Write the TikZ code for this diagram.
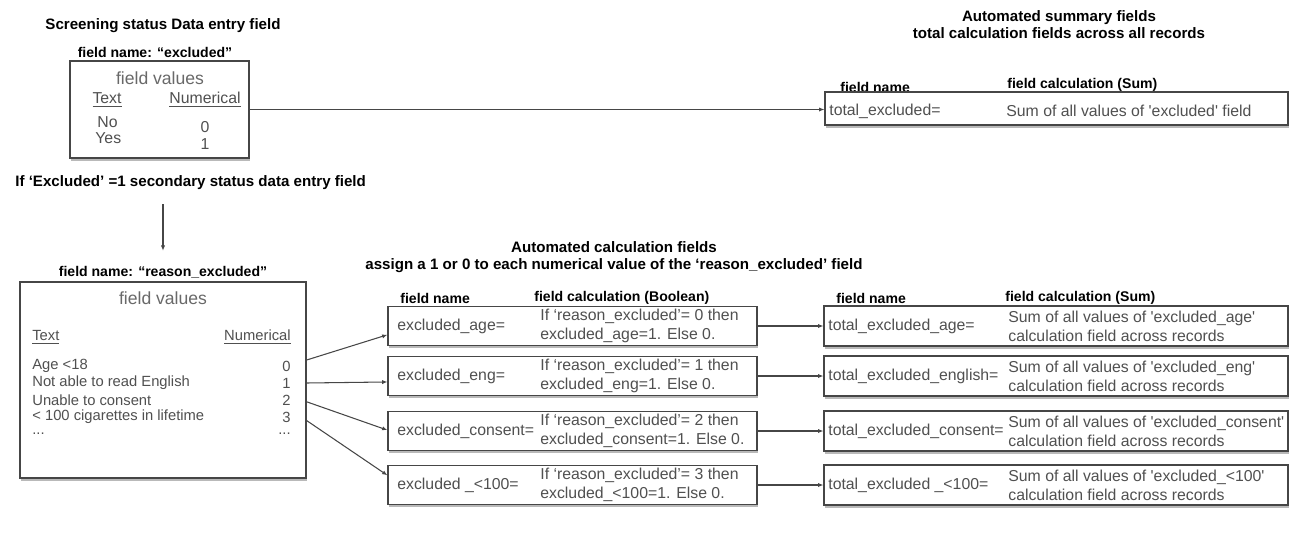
\documentclass[tikz,border=0pt]{standalone}
\usepackage{fontspec}
\setmainfont{Liberation Sans}
\definecolor{boxline}{RGB}{70,70,70}
\definecolor{valgray}{RGB}{80,80,80}
\definecolor{lightgray}{RGB}{105,105,105}
\usetikzlibrary{arrows.meta, positioning, shadows}

\begin{document}
\begin{tikzpicture}[x=0.02cm, y=-0.02cm, inner sep=0pt,
  title/.style={font=\fontsize{8.6}{9.6}\selectfont\bfseries, align=center},
  hd/.style={font=\fontsize{8}{9}\selectfont\bfseries},
  txt/.style={font=\fontsize{9}{10.8}\selectfont, text=valgray, align=left},
  lst/.style={font=\fontsize{8.4}{10}\selectfont, text=valgray},
  fvals/.style={font=\fontsize{10}{12}\selectfont, text=lightgray},
  fbox/.style={draw=boxline, line width=0.7pt, fill=white,
    drop shadow={shadow xshift=0.5pt, shadow yshift=-1.8pt, opacity=0.55}},
  arr/.style={draw=boxline, line width=0.6pt, -{Latex[length=3pt, width=2.4pt]}}]
\useasboundingbox (0,0) rectangle (1291,541);

% screening status field
\node[title] (scrtitle) at (163,26) {Screening status Data entry field};
\node[hd] (exname) at (155,52) {field name: ``excluded''};
\node[fbox, minimum width=3.58cm, minimum height=1.94cm] (exbox) at (159.5,109.5) {};
\node[fvals] (exvals) at (160,78) {field values};
\node[txt] (extext) at (107,100) {\underline{Text}};
\node[txt] (exnum) at (205,100) {\underline{Numerical}};
\node[txt, anchor=west] (exno) at (97,122) {No};
\node[txt, anchor=west] (exyes) at (95,138) {Yes};
\node[txt] (ex0) at (205,127) {0};
\node[txt] (ex1) at (205,144) {1};

% summary of excluded
\node[title] (sumtitle) at (1059,25) {Automated summary fields\\total calculation fields across all records};
\node[hd, anchor=west] (tothd1) at (840,87) {field name};
\node[hd, anchor=west] (tothd2) at (1007,85) {field calculation (Sum)};
\node[fbox, minimum width=9.26cm, minimum height=0.66cm] (totbox) at (1056.5,108.5) {};
\node[txt, anchor=west] (totname) at (829,111) {total\_excluded=};
\node[txt, anchor=west] (totsum) at (1006,111) {Sum of all values of \textquotesingle excluded\textquotesingle{} field};
\draw[arr] (exbox.east) -- (exbox.east -| totbox.west);

% secondary status field
\node[title, anchor=west] (iftxt) at (15,183) {If `Excluded' =1 secondary status data entry field};
\node[hd] (rsname) at (163,272) {field name: ``reason\_excluded''};
\draw[arr] ([yshift=-8pt]iftxt.south -| rsname) -- ([yshift=8.5pt]rsname.north);
\node[fbox, minimum width=5.72cm, minimum height=3.92cm] (rsbox) at (163,380) {};
\node[fvals] (rsvals) at (163,298) {field values};
\node[lst, anchor=west] (rstext) at (32,337) {\underline{Text}};
\node[lst, anchor=east] (rsnum) at (291,337) {\underline{Numerical}};
\foreach \n/\lbl/\y in {0/Age <18/366, 1/Not able to read English/383, 2/Unable to consent/400, 3/< 100 cigarettes in lifetime/417} {
  \node[lst, anchor=west] (r\n) at (32,\y) {\lbl};
  \node[lst, anchor=east] (n\n) at (291,\y) {\n};
}
\node[lst, anchor=west] (rdots) at (32,434) {...};
\node[lst, anchor=east] (ndots) at (291,434) {...};

% boolean and sum fields
\node[title] (calctitle) at (614,257.5) {Automated calculation fields\\assign a 1 or 0 to each numerical value of the `reason\_excluded' field};
\node[hd, anchor=west] (bhd1) at (400,298) {field name};
\node[hd, anchor=west] (bhd2) at (534,298) {field calculation (Boolean)};
\node[hd, anchor=west] (shd1) at (836,298) {field name};
\node[hd, anchor=west] (shd2) at (1005,298) {field calculation (Sum)};
\foreach \i/\y/\c/\bname/\v/\sname in {
  1/326/0/excluded\_age=/age/total\_excluded\_age=,
  2/376/1/excluded\_eng=/eng/total\_excluded\_english=,
  3/431/2/excluded\_consent=/consent/total\_excluded\_consent=,
  4/485/3/excluded \_<100=/<100/total\_excluded \_<100=} {
  \node[fbox, minimum width=7.38cm, minimum height=0.77cm] (b\i) at (572.5,\y) {};
  \node[txt, anchor=west] (bn\i) at (397,\y) {\bname};
  \node[txt, anchor=west] (bc\i) at (540,\y) {If `reason\_excluded'= \c{} then\\excluded\_\v=1. Else 0.};
  \node[fbox, minimum width=9.28cm, minimum height=0.8cm] (s\i) at (1056,\y) {};
  \node[txt, anchor=west] (sn\i) at (828,\y) {\sname};
  \node[txt, anchor=west] (sc\i) at (1008,\y) {Sum of all values of \textquotesingle excluded\_\v\textquotesingle\\calculation field across records};
  \draw[arr] (b\i) -- (s\i);
}
\draw[arr] ([yshift=3.4pt]rsbox.east |- n0) -- ([yshift=-5pt]b1.west);
\draw[arr] (rsbox.east |- n1) -- ([yshift=-3.4pt]b2.west);
\draw[arr] ([yshift=-1pt]rsbox.east |- n2) -- ([yshift=0.5pt]b3.west);
\draw[arr] ([yshift=-2pt]rsbox.east |- n3) -- ([yshift=5.5pt]b4.west);
\end{tikzpicture}
\end{document}
